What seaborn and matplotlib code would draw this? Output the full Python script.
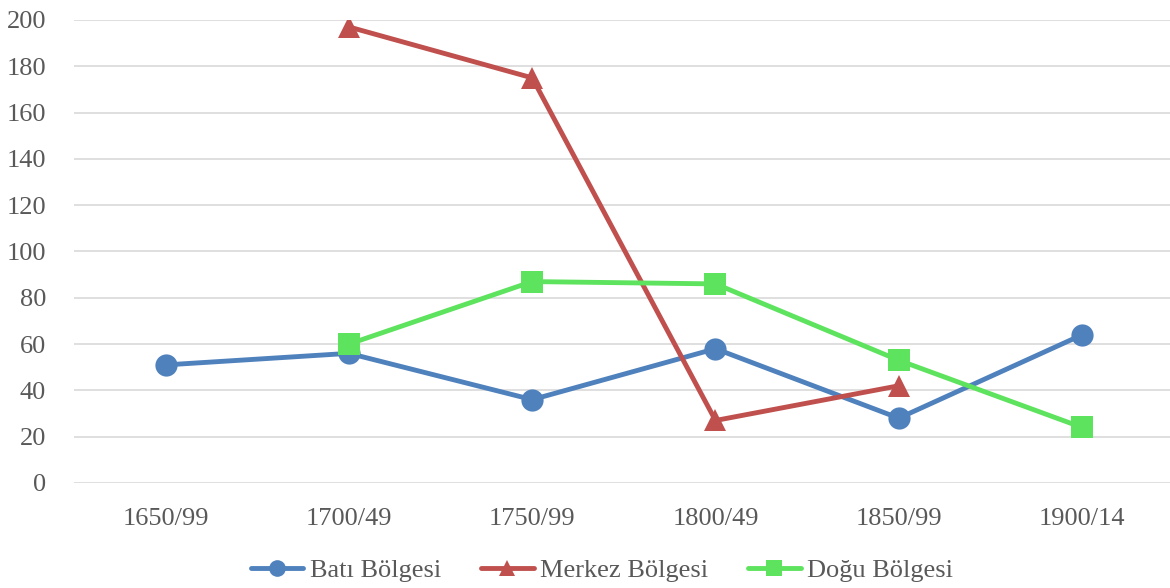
import numpy as np
import pandas as pd
import matplotlib
matplotlib.use("Agg")
import matplotlib.pyplot as plt
import seaborn as sns

# donnees
periods = ["1650/99", "1700/49", "1750/99", "1800/49", "1850/99", "1900/14"]
bati = [51, 56, 36, 58, 28, 64]
merkez = [np.nan, 197, 175, 27, 42, np.nan]
dogu = [np.nan, 60, 87, 86, 53, 24]

series_names = ["Batı Bölgesi", "Merkez Bölgesi", "Doğu Bölgesi"]
colors = {"Batı Bölgesi": "#4F81BD", "Merkez Bölgesi": "#C0504D", "Doğu Bölgesi": "#5EE35E"}
markers = {"Batı Bölgesi": "o", "Merkez Bölgesi": "^", "Doğu Bölgesi": "s"}

df = pd.DataFrame({
    "x": list(range(len(periods))) * 3,
    "value": bati + merkez + dogu,
    "Bölge": [s for s in series_names for _ in periods],
})
df = df.dropna()

sns.set_style("white")
plt.rcParams["font.family"] = ["Liberation Serif", "DejaVu Serif"]

fig = plt.figure(figsize=(11.7, 5.88), dpi=100)
ax = fig.add_axes([0.0632, 0.1786, 0.940, 0.7874])

sns.lineplot(data=df, x="x", y="value", hue="Bölge", style="Bölge",
             hue_order=series_names, style_order=series_names,
             palette=colors, markers=markers, dashes=False,
             linewidth=3.5, markersize=16, markeredgewidth=0, ax=ax)

ax.set_xlim(-0.5, len(periods) - 0.5)
ax.set_ylim(0, 200)
ax.set_yticks(range(0, 201, 20))
ax.set_xticks(range(len(periods)))
ax.set_xticklabels(periods)
ax.set_xlabel("")
ax.set_ylabel("")
ax.yaxis.grid(True, color="#D9D9D9", linewidth=1.2)
ax.set_axisbelow(True)
for sp in ax.spines.values():
    sp.set_visible(False)
ax.tick_params(axis="both", length=0, labelsize=19, labelcolor="#595959")
ax.tick_params(axis="y", pad=20)
ax.tick_params(axis="x", pad=18)

handles, labels = ax.get_legend_handles_labels()
ax.legend(handles, labels, loc="lower center", bbox_to_anchor=(0.48, -0.265),
          ncol=3, frameon=False, fontsize=19, handlelength=2.0, markerscale=0.75,
          handletextpad=0.25, columnspacing=1.5, labelcolor="#595959")

fig.savefig("out.png", dpi=100)
